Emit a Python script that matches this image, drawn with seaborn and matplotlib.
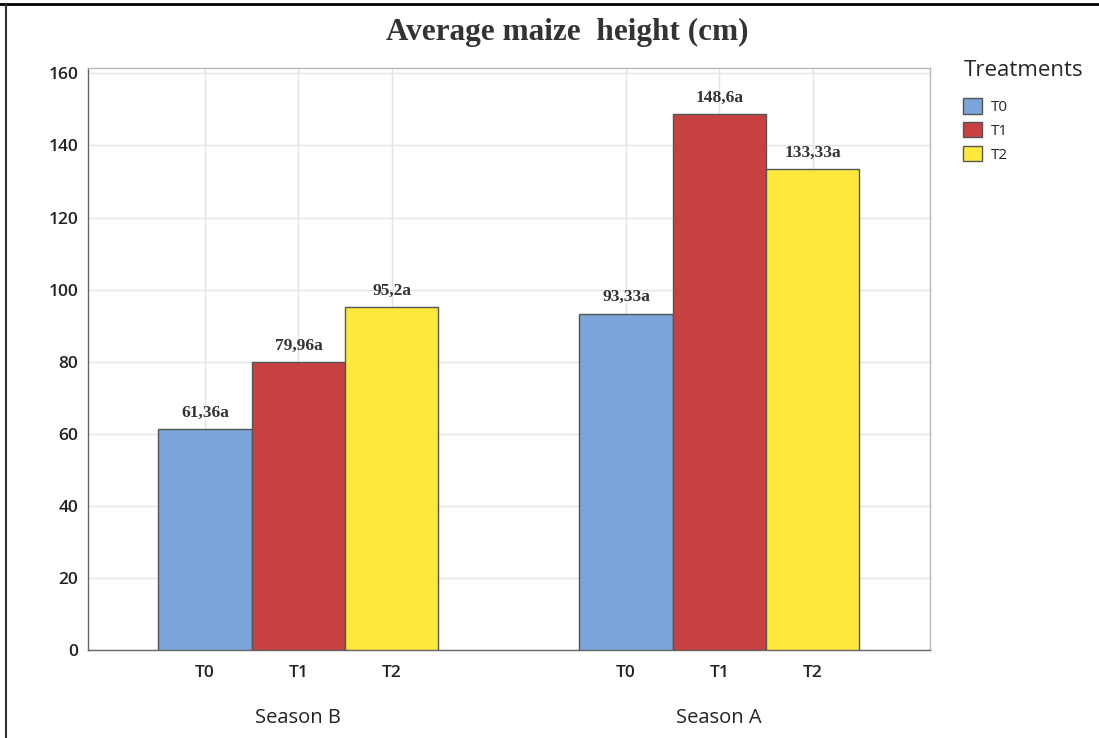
import matplotlib
matplotlib.use("Agg")
import matplotlib.pyplot as plt
import matplotlib.transforms as mtransforms
from matplotlib.lines import Line2D
import seaborn as sns
import pandas as pd

# ---- data ----
seasons = ["Season B", "Season A"]
treatments = ["T0", "T1", "T2"]
season_b = [61.36, 79.96, 95.2]
season_a = [93.33, 148.6, 133.33]
labels_b = ["61,36a", "79,96a", "95,2a"]
labels_a = ["93,33a", "148,6a", "133,33a"]

df = pd.DataFrame({
    "season": [seasons[0]] * 3 + [seasons[1]] * 3,
    "treatment": treatments * 2,
    "height": season_b + season_a,
})

palette = {"T0": "#7BA4D9", "T1": "#C84141", "T2": "#FFE83E"}

sns.set_style("white")
plt.rcParams["font.family"] = ["Open Sans", "DejaVu Sans"]

fig = plt.figure(figsize=(10.99, 7.38), dpi=100)
ax = fig.add_axes([0.080, 0.1192, 0.766, 0.7887])

sns.barplot(data=df, x="season", y="height", hue="treatment", order=seasons,
            hue_order=treatments, palette=palette, width=0.665,
            edgecolor="#555555", linewidth=1.0, saturation=1, ax=ax, zorder=3,
            legend=False)

# value labels
for cont, labs in zip(ax.containers, [[labels_b[i], labels_a[i]] for i in range(3)]):
    ax.bar_label(cont, labels=labs, padding=6, fontsize=12.5, fontweight="bold",
                 family="Liberation Serif", color="#333333")

# ticks at each bar centre, labelled with the treatment
centers, names = [], []
for cont, t in zip(ax.containers, treatments):
    for p in cont.patches:
        centers.append(p.get_x() + p.get_width() / 2)
        names.append(t)
ax.set_xticks(centers)
ax.set_xticklabels(names, fontsize=12.5, fontweight="semibold", color="#222222")
ax.set_xlim(-0.5, 1.5)
ax.set_ylim(0, 161.5)
ax.set_yticks(range(0, 161, 20))
ax.tick_params(axis="y", labelsize=12.5, length=4, color="#555555", pad=3)
ax.tick_params(axis="x", length=5, color="#555555", pad=6)
for lab in ax.get_yticklabels():
    lab.set_fontweight("semibold")
    lab.set_color("#222222")

ax.grid(True, color="#e4e4e4", linewidth=1.0, zorder=0)
ax.set_axisbelow(True)
for side in ["top", "right"]:
    ax.spines[side].set_color("#b8b8b8")
for side in ["left", "bottom"]:
    ax.spines[side].set_color("#666666")
for s in ax.spines.values():
    s.set_visible(True)
    s.set_linewidth(1.0)
ax.set_xlabel("")
ax.set_ylabel("")

# season labels under the groups
trans = mtransforms.blended_transform_factory(ax.transData, fig.transFigure)
for i, s in enumerate(seasons):
    ax.text(i, 1 - 718 / 738, s, transform=trans, ha="center", va="center",
            fontsize=14.5, color="#222222")

# legend
handles = [plt.Rectangle((0, 0), 1, 1, facecolor=palette[t], edgecolor="#555555")
           for t in treatments]
leg = fig.legend(handles, treatments, title="Treatments", loc="upper left",
                 bbox_to_anchor=(0.864, 0.937), frameon=False, fontsize=11,
                 title_fontsize=16, handlelength=1.2, handleheight=1.2,
                 handletextpad=0.6, labelspacing=0.45)
leg._legend_box.align = "left"
leg._legend_box.sep = 12

fig.text(0.516, 0.956, "Average maize  height (cm)", ha="center", va="center",
         fontsize=22.5, fontweight="bold", family="Liberation Serif", color="#333333")

# outer frame lines (top and left as in the scan)
fig.add_artist(Line2D([0, 1], [1 - 4 / 738] * 2, transform=fig.transFigure,
                      color="black", linewidth=2))
fig.add_artist(Line2D([6 / 1099] * 2, [0, 1 - 4 / 738], transform=fig.transFigure,
                      color="#333333", linewidth=1.5))

fig.savefig("out.png", dpi=100)
